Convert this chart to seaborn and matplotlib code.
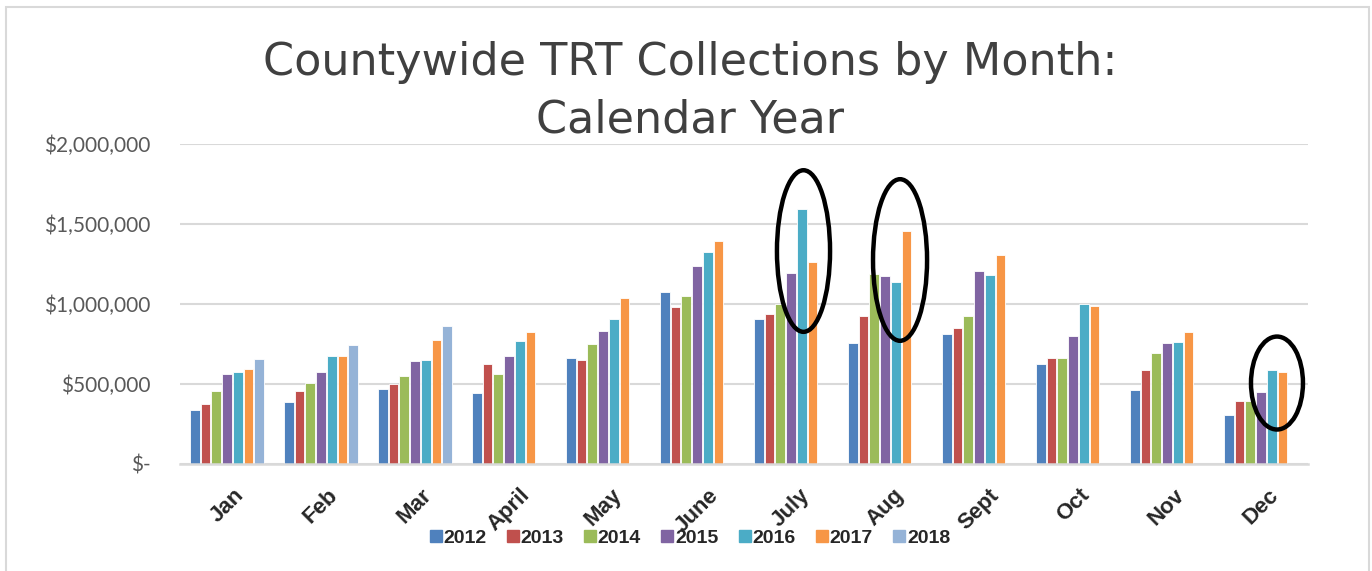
import numpy as np
import pandas as pd
import seaborn as sns
import matplotlib
matplotlib.use("Agg")
import matplotlib.pyplot as plt
from matplotlib.patches import Ellipse, Rectangle
from matplotlib.lines import Line2D
from matplotlib.ticker import FixedLocator

months = ["Jan", "Feb", "Mar", "April", "May", "June", "July", "Aug", "Sept", "Oct", "Nov", "Dec"]
years = ["2012", "2013", "2014", "2015", "2016", "2017", "2018"]

y2012 = [336000, 388000, 466000, 441000, 661000, 1078000, 909000, 755000, 815000, 628000, 461000, 307000]
y2013 = [374000, 457000, 503000, 622000, 649000, 980000, 936000, 922000, 853000, 665000, 586000, 391000]
y2014 = [457000, 507000, 547000, 561000, 749000, 1053000, 997000, 1186000, 924000, 665000, 692000, 394000]
y2015 = [565000, 578000, 643000, 678000, 830000, 1236000, 1192000, 1178000, 1207000, 799000, 759000, 453000]
y2016 = [578000, 674000, 649000, 768000, 905000, 1324000, 1592000, 1136000, 1184000, 1001000, 761000, 586000]
y2017 = [591000, 674000, 774000, 826000, 1038000, 1392000, 1261000, 1459000, 1309000, 988000, 826000, 578000]
y2018 = [657000, 744000, 863000, np.nan, np.nan, np.nan, np.nan, np.nan, np.nan, np.nan, np.nan, np.nan]

series = [y2012, y2013, y2014, y2015, y2016, y2017, y2018]
colors = ["#4F81BD", "#C0504D", "#9BBB59", "#8064A2", "#4BACC6", "#F79646", "#95B3D7"]

ytick_vals = [0, 500000, 1000000, 1500000, 2000000]
ytick_labels = ["$-", "$500,000", "$1,000,000", "$1,500,000", "$2,000,000"]

rows = []
for yr, vals in zip(years, series):
    for m, v in zip(months, vals):
        rows.append({"month": m, "year": yr, "value": v})
df = pd.DataFrame(rows)

sns.set_theme(style="white")
plt.rcParams["font.family"] = ["DejaVu Sans"]

W, H = 1372, 571
fig = plt.figure(figsize=(W / 100, H / 100), dpi=100)
ax = fig.add_axes([180 / W, 1 - 464 / H, (1308 - 180) / W, (464 - 144) / H])

sns.barplot(data=df, x="month", y="value", hue="year", order=months, hue_order=years,
            palette=colors, width=0.8, gap=0.08, edgecolor="white", linewidth=0.6,
            saturation=1, ax=ax, legend=False, errorbar=None)

ax.set_ylim(0, 2000000)
ax.set_xlim(-0.5, len(months) - 0.5)
ax.yaxis.set_major_locator(FixedLocator(ytick_vals))
ax.set_yticklabels(ytick_labels, fontsize=15, color="#595959", family=["Lato", "DejaVu Sans"])
ax.tick_params(axis="y", length=0, pad=21)
ax.set_xticks(range(len(months)))
ax.set_xticklabels(months, rotation=45, ha="center", va="top", fontsize=16,
                   fontweight="bold", color="#262626", family=["Liberation Sans", "DejaVu Sans"])
ax.tick_params(axis="x", length=0, pad=15)
ax.set_xlabel("")
ax.set_ylabel("")
for s in ["top", "right", "left"]:
    ax.spines[s].set_visible(False)
ax.spines["bottom"].set_color("#D9D9D9")
ax.spines["bottom"].set_linewidth(1.8)
ax.yaxis.grid(True, color="#D9D9D9", linewidth=1.5)
ax.set_axisbelow(True)

# annotation ellipses
ell_specs = [(6.133, 1331000, 0.565, 1010000),
             (7.16, 1275000, 0.575, 1010000),
             (11.17, 506000, 0.553, 581000)]
for cx, cy, w, h in ell_specs:
    ax.add_patch(Ellipse((cx, cy), w, h, fill=False, edgecolor="black", linewidth=3.2,
                         clip_on=False, zorder=10))

# title
fig.text(690 / W, 1 - 62 / H, "Countywide TRT Collections by Month:", ha="center", va="center",
         fontsize=32, color="#404040", family=["DejaVu Sans"])
fig.text(690 / W, 1 - 120 / H, "Calendar Year", ha="center", va="center",
         fontsize=32, color="#404040", family=["DejaVu Sans"])

# legend
handles = [Line2D([0], [0], marker="s", linestyle="none", markersize=8,
                  markerfacecolor=c, markeredgecolor=c) for c in colors]
leg = fig.legend(handles, years, loc="center", bbox_to_anchor=(690 / W, 1 - 538 / H), ncol=7,
                 frameon=False, handlelength=0.6, handletextpad=0.1, columnspacing=1.05,
                 prop={"family": ["Liberation Sans Narrow", "Liberation Sans"], "weight": "bold", "size": 14})
for t in leg.get_texts():
    t.set_color("#262626")

# outer frame
fig.patches.append(Rectangle((6 / W, -0.05), (1369 - 6) / W, 1.05 - 7 / H, transform=fig.transFigure,
                             fill=False, edgecolor="#D9D9D9", linewidth=1.5))

fig.savefig("out.png", dpi=100)
